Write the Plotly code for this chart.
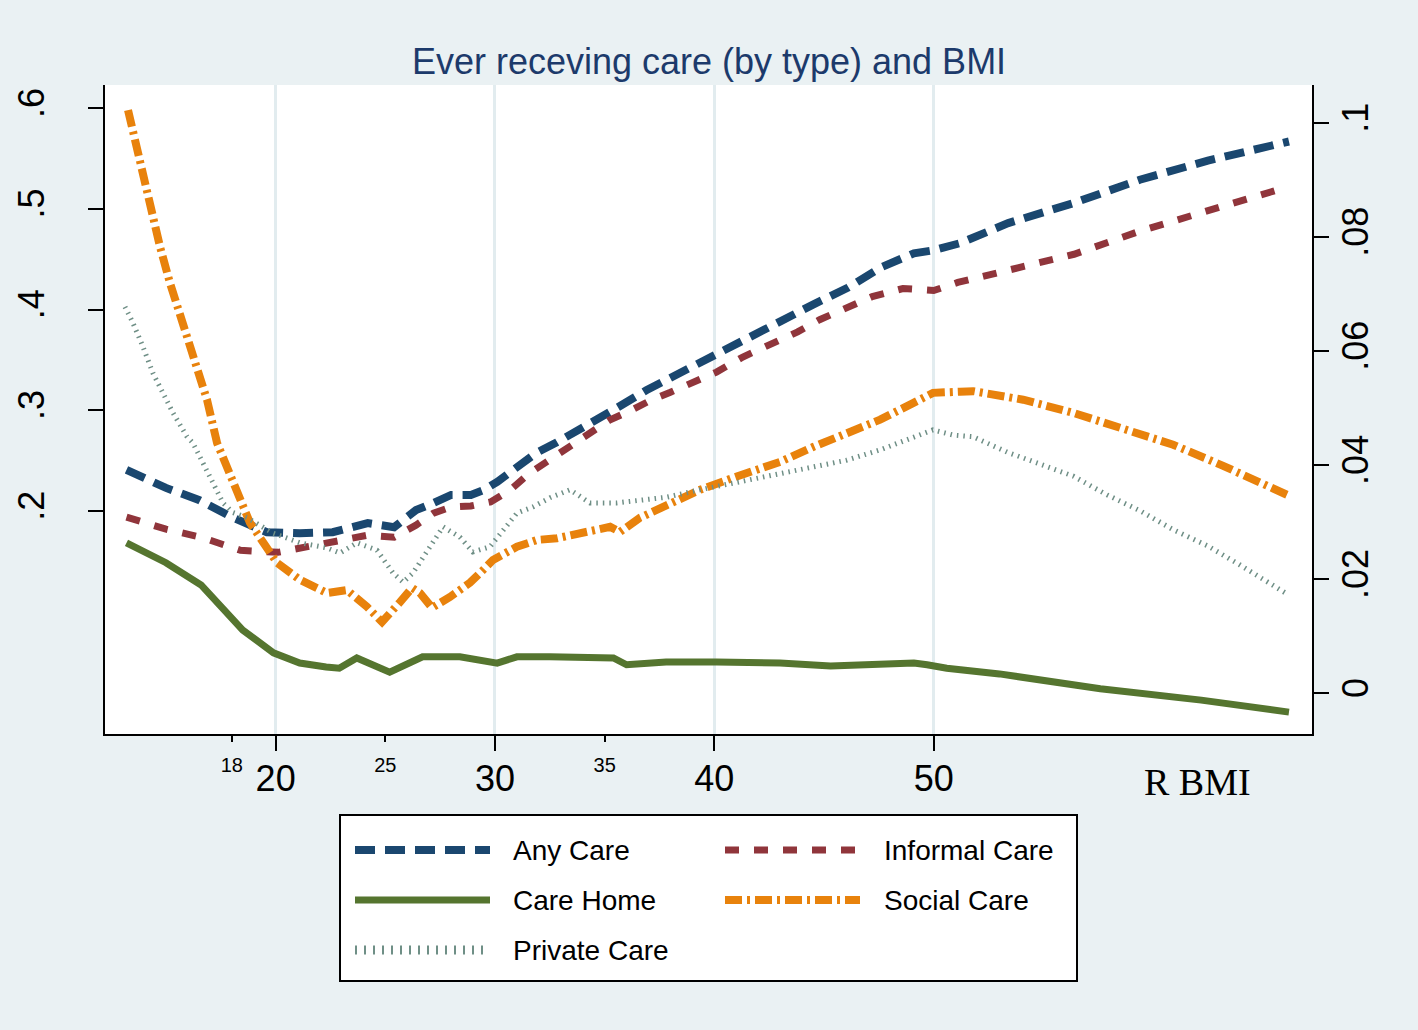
import plotly.graph_objects as go

# ---------------- data ----------------
any_x = [13.2, 15.0, 16.5, 18.0, 19.6, 21.1, 22.6, 24.2, 25.4, 26.4, 27.2, 28.0, 28.9, 29.5,
         30.1, 31.0, 31.9, 32.8, 33.7, 34.7, 35.6, 36.9, 38.4, 39.9, 41.5, 43.0, 44.5, 46.1,
         47.6, 49.1, 50.0, 51.2, 53.4, 56.4, 59.4, 62.5, 66.2]
any_y = [0.241, 0.223, 0.211, 0.194, 0.179, 0.178, 0.179, 0.188, 0.184, 0.201, 0.208, 0.216,
         0.216, 0.221, 0.229, 0.243, 0.258, 0.268, 0.280, 0.292, 0.303, 0.320, 0.337, 0.353,
         0.373, 0.390, 0.405, 0.422, 0.442, 0.456, 0.459, 0.466, 0.486, 0.506, 0.529, 0.548, 0.567]

inf_x = [13.2, 15.0, 16.6, 18.4, 20.1, 21.1, 22.6, 24.2, 25.4, 26.4, 27.2, 28.0, 28.9, 29.8,
         30.7, 31.6, 32.5, 33.4, 34.3, 35.2, 36.2, 37.1, 38.0, 39.0, 40.1, 41.3, 42.5, 43.8,
         44.8, 46.1, 47.2, 48.6, 50.0, 51.1, 53.4, 56.4, 59.4, 62.5, 66.0]
inf_y = [0.194, 0.182, 0.174, 0.161, 0.159, 0.163, 0.169, 0.176, 0.174, 0.186, 0.198, 0.204,
         0.205, 0.209, 0.221, 0.238, 0.251, 0.264, 0.275, 0.290, 0.300, 0.310, 0.318, 0.328,
         0.338, 0.353, 0.365, 0.378, 0.390, 0.402, 0.413, 0.421, 0.419, 0.427, 0.439, 0.455,
         0.478, 0.498, 0.521]

home_x = [13.2, 15.0, 16.6, 17.6, 18.5, 19.9, 21.1, 22.3, 22.9, 23.7, 25.2, 26.7, 28.4, 30.1,
          31.0, 32.5, 34.0, 35.4, 36.0, 37.8, 40.1, 43.0, 45.3, 47.6, 49.1, 49.7, 50.6, 53.0,
          57.6, 62.2, 66.2]
home_y = [0.0264, 0.0229, 0.0190, 0.0146, 0.0111, 0.0071, 0.0053, 0.0046, 0.0044, 0.0062,
          0.0037, 0.0064, 0.0064, 0.0053, 0.0064, 0.0064, 0.0062, 0.0062, 0.0050, 0.0055,
          0.0055, 0.0053, 0.0048, 0.0050, 0.0053, 0.0050, 0.0044, 0.0034, 0.0008, -0.0012,
          -0.0033]

soc_x = [13.27, 13.82, 14.27, 14.73, 15.18, 15.78, 16.23, 16.87, 17.33, 18.05, 18.83, 20.06,
         21.11, 22.34, 23.25, 24.16, 24.85, 25.67, 26.22, 26.58, 27.13, 27.95, 28.86, 29.45,
         29.91, 31.0, 31.92, 32.83, 34.02, 35.25, 35.7, 36.61, 37.84, 39.35, 40.85, 43.0,
         44.5, 46.05, 47.56, 49.06, 49.97, 51.2, 51.8, 54.08, 56.36, 58.64, 60.92, 63.2, 66.12]
soc_y = [0.1023, 0.0932, 0.0848, 0.0783, 0.0720, 0.0643, 0.0585, 0.0515, 0.0439, 0.0369,
         0.0299, 0.0229, 0.0199, 0.0176, 0.0181, 0.0152, 0.0125, 0.0160, 0.0185, 0.0176,
         0.0150, 0.0169, 0.0194, 0.0216, 0.0234, 0.0257, 0.0269, 0.0272, 0.0281, 0.0292,
         0.0283, 0.0308, 0.0330, 0.0357, 0.0378, 0.0406, 0.0432, 0.0457, 0.0480, 0.0509,
         0.0527, 0.0529, 0.0530, 0.0515, 0.0492, 0.0464, 0.0436, 0.0399, 0.0348]

prv_x = [13.13, 13.49, 13.95, 14.4, 14.86, 15.32, 15.96, 16.23, 17.0, 17.6, 18.05, 18.69,
         19.88, 21.11, 22.34, 22.93, 23.71, 24.62, 25.35, 25.81, 26.26, 26.72, 27.17, 27.63,
         28.4, 28.99, 29.77, 30.54, 31.0, 31.73, 32.51, 33.42, 34.33, 35.56, 36.75, 37.84,
         39.35, 40.85, 43.0, 44.5, 46.05, 47.56, 49.06, 49.97, 50.88, 51.8, 53.35, 54.86,
         56.36, 57.91, 59.42, 60.92, 62.47, 63.97, 66.12]
prv_y = [0.0678, 0.0650, 0.0608, 0.0562, 0.0527, 0.0492, 0.0450, 0.0439, 0.0380, 0.0334,
         0.0317, 0.0308, 0.0281, 0.0264, 0.0255, 0.0246, 0.0264, 0.0251, 0.0211, 0.0195,
         0.0211, 0.0239, 0.0264, 0.0292, 0.0274, 0.0248, 0.0257, 0.0292, 0.0316, 0.0327,
         0.0343, 0.0357, 0.0334, 0.0334, 0.0339, 0.0344, 0.0357, 0.0369, 0.0386, 0.0397,
         0.0409, 0.0427, 0.0450, 0.0462, 0.0453, 0.0450, 0.0423, 0.0402, 0.0381, 0.0348,
         0.0320, 0.0287, 0.0259, 0.0225, 0.0174]

x_major = [20, 30, 40, 50]
x_minor = [18, 25, 35]
yl_ticks = [0.2, 0.3, 0.4, 0.5, 0.6]
yl_text = [".2", ".3", ".4", ".5", ".6"]
yr_ticks = [0, 0.02, 0.04, 0.06, 0.08, 0.1]
yr_text = ["0", ".02", ".04", ".06", ".08", ".1"]

# ---------------- styles ----------------
C_ANY = "#1a476f"
C_INF = "#90353b"
C_HOME = "#55752f"
C_SOC = "#e8820c"
C_PRV = "#6f8f86"
BG = "#eaf1f3"
FONT = "Liberation Sans, Arial, sans-serif"

styles = {
    "Any Care": dict(color=C_ANY, width=8, dash="20px,10px"),
    "Informal Care": dict(color=C_INF, width=7, dash="14px,15px"),
    "Care Home": dict(color=C_HOME, width=7, dash="solid"),
    "Social Care": dict(color=C_SOC, width=8, dash="17px,5px,3px,5px"),
    "Private Care": dict(color=C_PRV, width=5, dash="1.5px,5px"),
}

W, H = 1418, 1030
ML, MR, MT, MB = 105, 106, 85, 296
PW, PH = W - ML - MR, H - MT - MB

fig = go.Figure()
fig.add_trace(go.Scatter(x=any_x, y=any_y, mode="lines", name="Any Care",
                         line=styles["Any Care"], xaxis="x", yaxis="y"))
fig.add_trace(go.Scatter(x=inf_x, y=inf_y, mode="lines", name="Informal Care",
                         line=styles["Informal Care"], xaxis="x", yaxis="y"))
fig.add_trace(go.Scatter(x=prv_x, y=prv_y, mode="lines", name="Private Care",
                         line=styles["Private Care"], xaxis="x2", yaxis="y2"))
fig.add_trace(go.Scatter(x=soc_x, y=soc_y, mode="lines", name="Social Care",
                         line=styles["Social Care"], xaxis="x", yaxis="y2"))
fig.add_trace(go.Scatter(x=home_x, y=home_y, mode="lines", name="Care Home",
                         line=styles["Care Home"], xaxis="x", yaxis="y2"))


def px_x(p):
    return (p - ML) / PW


def px_y(p):
    return (MT + PH - p) / PH


shapes = []
annotations = []
# legend frame
shapes.append(dict(type="rect", xref="paper", yref="paper",
                   x0=px_x(340), x1=px_x(1077), y0=px_y(981), y1=px_y(815),
                   fillcolor="white", line=dict(color="black", width=2), layer="above"))
legend_items = [("Any Care", 0, 850), ("Informal Care", 1, 850),
                ("Care Home", 0, 900), ("Social Care", 1, 900),
                ("Private Care", 0, 950)]
col_sym = [(355, 490, 511), (725, 860, 882)]
for name, col, py in legend_items:
    s0, s1, tx = col_sym[col]
    st = dict(styles[name])
    if name == "Private Care":
        st = dict(color=C_PRV, width=9, dash="2px,7px")
    shapes.append(dict(type="line", xref="paper", yref="paper",
                       x0=px_x(s0), x1=px_x(s1), y0=px_y(py), y1=px_y(py),
                       line=st, layer="above"))
    annotations.append(dict(text=name, xref="paper", yref="paper",
                            x=px_x(tx), y=px_y(py), xanchor="left", yanchor="middle",
                            showarrow=False, font=dict(family=FONT, size=28, color="black")))

annotations.append(dict(text="R BMI", xref="paper", yref="paper",
                        x=px_x(1197), y=px_y(782), xanchor="center", yanchor="middle",
                        showarrow=False,
                        font=dict(family="Liberation Serif, Times New Roman, serif",
                                  size=38, color="black")))

xr = [12.22, 67.25]
fig.update_layout(
    width=W, height=H,
    margin=dict(l=ML, r=MR, t=MT, b=MB),
    paper_bgcolor=BG, plot_bgcolor="white",
    showlegend=False,
    title=dict(text="Ever receving care (by type) and BMI", x=0.5, xanchor="center",
               y=1 - 61 / H, yanchor="middle",
               font=dict(family=FONT, size=36, color="#1c3a6b")),
    xaxis=dict(range=xr, tickvals=x_major, ticktext=[str(v) for v in x_major],
               showgrid=True, gridcolor="#e2ecef", gridwidth=3, zeroline=False,
               showline=True, linecolor="black", linewidth=2,
               ticks="outside", ticklen=15, tickwidth=2, tickcolor="black",
               tickfont=dict(family=FONT, size=36, color="black"),
               ticklabelstandoff=-3),
    xaxis2=dict(range=xr, overlaying="x", anchor="y", side="bottom",
                tickvals=x_minor, ticktext=[str(v) for v in x_minor],
                showgrid=False, zeroline=False, showline=False,
                ticks="outside", ticklen=7, tickwidth=2, tickcolor="black",
                tickfont=dict(family=FONT, size=20, color="black"),
                ticklabelstandoff=6),
    yaxis=dict(range=[-0.0214, 0.6231], tickvals=yl_ticks, ticktext=yl_text,
               tickangle=-90, showgrid=False, zeroline=False,
               showline=True, linecolor="black", linewidth=2,
               ticks="outside", ticklen=15, tickwidth=2, tickcolor="black",
               tickfont=dict(family=FONT, size=36, color="black"),
               ticklabelstandoff=30),
    yaxis2=dict(range=[-0.00714, 0.1067], tickvals=yr_ticks, ticktext=yr_text,
                overlaying="y", side="right", anchor="x",
                tickangle=-90, showgrid=False, zeroline=False,
                showline=True, linecolor="black", linewidth=2,
                ticks="outside", ticklen=15, tickwidth=2, tickcolor="black",
                tickfont=dict(family=FONT, size=36, color="black"),
                ticklabelstandoff=-4),
    shapes=shapes,
    annotations=annotations,
)

post = ("document.body.style.margin='0px';"
        "document.body.style.padding='0px';"
        "document.body.style.overflow='hidden';"
        "document.body.style.backgroundColor='" + BG + "';")
fig.write_html("out.html", post_script=post, config={"displayModeBar": False})
